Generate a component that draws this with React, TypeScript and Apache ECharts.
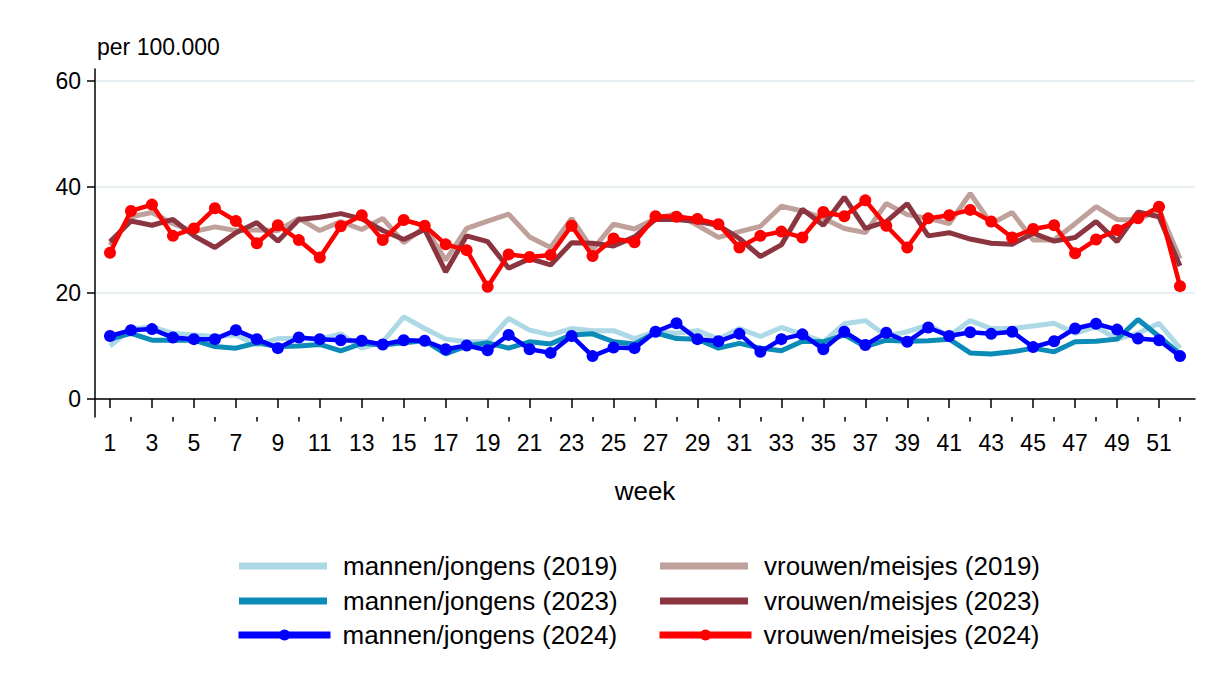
import React, { useEffect, useRef } from "react";
import * as echarts from "echarts";

const weeks = [1,2,3,4,5,6,7,8,9,10,11,12,13,14,15,16,17,18,19,20,21,22,23,24,25,26,27,28,29,30,31,32,33,34,35,36,37,38,39,40,41,42,43,44,45,46,47,48,49,50,51,52];
const xLabelWeeks = [1,3,5,7,9,11,13,15,17,19,21,23,25,27,29,31,33,35,37,39,41,43,45,47,49,51];
const xMinorWeeks = [2,4,6,8,10,12,14,16,18,20,22,24,26,28,30,32,34,36,38,40,42,44,46,48,50,52];
const yTicks = [0, 20, 40, 60];

const mannen2019 = [10.0,13.2,13.6,12.4,12.1,11.8,12.1,10.2,11.4,11.4,11.3,12.3,9.6,10.8,15.5,13.3,11.3,10.8,10.8,15.2,13.0,12.1,13.3,12.9,12.9,11.4,12.7,12.4,12.9,11.3,13.3,11.8,13.5,12.2,10.8,14.2,14.8,11.9,12.7,14.0,11.9,14.8,13.3,13.3,13.8,14.3,12.4,13.6,11.3,12.4,14.3,9.6];
const mannen2023 = [11.3,12.4,11.1,11.1,11.1,9.9,9.6,10.6,9.9,10.0,10.3,9.1,10.5,10.2,10.6,11.0,8.5,10.0,10.6,9.6,10.8,10.4,12.1,12.3,10.8,10.4,12.5,11.4,11.3,9.6,10.5,9.6,9.1,10.9,10.8,12.1,9.9,11.1,10.9,11.0,11.3,8.7,8.5,8.9,9.6,8.9,10.8,10.9,11.3,15.0,11.8,8.5];
const mannen2024 = [11.9,13.0,13.2,11.6,11.3,11.3,13.0,11.3,9.6,11.6,11.3,11.1,11.0,10.3,11.1,11.0,9.4,10.1,9.2,12.1,9.4,8.7,11.9,8.1,9.7,9.6,12.7,14.3,11.3,10.9,12.3,8.9,11.3,12.2,9.4,12.7,10.2,12.5,10.8,13.5,11.9,12.6,12.3,12.7,9.8,10.9,13.3,14.2,13.1,11.4,11.1,8.1];
const vrouwen2019 = [29.0,34.4,35.2,33.1,31.6,32.5,31.8,31.9,31.8,34.1,31.8,33.5,32.0,34.1,29.5,32.5,26.2,32.2,33.6,34.9,30.6,28.6,34.1,28.2,33.0,32.1,34.1,35.0,32.8,30.5,31.6,32.6,36.4,35.5,34.1,32.2,31.4,36.9,34.8,34.1,33.1,38.8,33.1,35.2,30.0,30.0,33.1,36.3,33.9,33.8,35.8,26.5];
const vrouwen2023 = [29.7,33.6,32.8,33.9,30.8,28.6,31.4,33.3,29.8,33.9,34.3,35.0,34.0,31.8,30.1,32.0,24.0,30.8,29.7,24.7,26.5,25.3,29.5,29.4,28.9,30.6,33.9,33.9,33.5,32.8,30.3,26.9,29.1,35.8,32.8,38.1,32.2,33.5,36.9,30.8,31.4,30.2,29.4,29.2,31.3,29.8,30.5,33.5,29.7,35.3,34.4,25.1];
const vrouwen2024 = [27.6,35.5,36.7,30.8,32.2,36.0,33.6,29.4,32.8,30.0,26.7,32.6,34.7,30.0,33.8,32.7,29.2,28.1,21.2,27.3,26.8,27.2,32.7,27.0,30.3,29.6,34.5,34.4,34.0,33.0,28.6,30.8,31.6,30.5,35.3,34.5,37.5,32.7,28.6,34.1,34.7,35.7,33.5,30.5,32.1,32.8,27.5,30.1,31.9,34.1,36.3,21.3];

const seriesNames = [
  "mannen/jongens (2019)",
  "mannen/jongens (2023)",
  "mannen/jongens (2024)",
  "vrouwen/meisjes (2019)",
  "vrouwen/meisjes (2023)",
  "vrouwen/meisjes (2024)",
];
const seriesValues = [mannen2019, mannen2023, mannen2024, vrouwen2019, vrouwen2023, vrouwen2024];
const seriesColors = ["#ADD8E6", "#0A8BB8", "#0000FF", "#C0A09A", "#8B3540", "#FF0000"];
const seriesMarkers = [false, false, true, false, false, true];

const FONT = "'Liberation Sans', Arial, sans-serif";

export default function App() {
  const ref = useRef<HTMLDivElement>(null);
  useEffect(() => {
    const chart = echarts.init(ref.current as HTMLDivElement, null, { renderer: "svg" });
    const order = [0, 3, 1, 4, 2, 5];
    const series = order.map((i) => ({
      type: "line",
      name: seriesNames[i],
      xAxisIndex: 0,
      yAxisIndex: 0,
      data: weeks.map((w, k) => [w, seriesValues[i][k]]),
      symbol: seriesMarkers[i] ? "circle" : "none",
      showSymbol: seriesMarkers[i],
      symbolSize: 12,
      lineStyle: { color: seriesColors[i], width: seriesMarkers[i] ? 4.5 : 5 },
      itemStyle: { color: seriesColors[i] },
      z: seriesMarkers[i] ? 4 : 2,
      emphasis: { disabled: true },
    }));
    const legendLeft = [239, 239, 235, 660, 660, 656];
    const legendCenter = [566, 601, 635, 566, 601, 635];
    const legend = seriesNames.map((n, i) => {
      const marker = seriesMarkers[i];
      const h = marker ? 14 : 7;
      return {
        data: [n],
        left: legendLeft[i],
        top: legendCenter[i] - 15,
        padding: 0,
        itemWidth: marker ? 92 : 88,
        itemHeight: h,
        icon: marker ? undefined : "rect",
        selectedMode: false,
        lineStyle: { width: 7 },
        itemStyle: { color: seriesColors[i] },
        textStyle: { fontSize: 26, fontFamily: FONT, color: "#000", lineHeight: 30, padding: [0, 0, 0, marker ? 7 : 11] },
      };
    });
    chart.setOption({
      animation: false,
      backgroundColor: "#fff",
      title: {
        text: "per 100.000",
        left: 97,
        top: 35,
        padding: 0,
        textStyle: { fontSize: 23, fontWeight: "normal", fontFamily: FONT, color: "#000" },
      },
      grid: { left: 95, right: 10, top: 69, bottom: 262, containLabel: false },
      legend,
      xAxis: [
        {
          type: "value",
          min: 0.285,
          max: 52.715,
          position: "bottom",
          axisLine: { show: true, lineStyle: { color: "#000", width: 1.5 } },
          axisTick: { show: true, customValues: xLabelWeeks, length: 9, lineStyle: { color: "#000", width: 1.5 } },
          axisLabel: { show: true, customValues: xLabelWeeks, fontSize: 23, margin: 14, color: "#000", fontFamily: FONT },
          splitLine: { show: false },
          name: "week",
          nameLocation: "middle",
          nameGap: 61,
          nameTextStyle: { fontSize: 26, color: "#000", fontFamily: FONT },
        },
        {
          type: "value",
          min: 0.285,
          max: 52.715,
          position: "bottom",
          axisLine: { show: false },
          axisTick: { show: true, customValues: xMinorWeeks, length: 4.5, lineStyle: { color: "#000", width: 1.5 } },
          axisLabel: { show: false },
          splitLine: { show: false },
        },
      ],
      yAxis: {
        type: "value",
        min: -3.4,
        max: 62.3,
        axisLine: { show: true, lineStyle: { color: "#000", width: 1.5 } },
        axisTick: { show: true, customValues: yTicks, length: 8, lineStyle: { color: "#000", width: 1.5 } },
        axisLabel: { show: true, customValues: yTicks, fontSize: 23, margin: 14, color: "#000", fontFamily: FONT },
        splitLine: { show: true, lineStyle: { color: "#E6EFF1", width: 2 } },
      },
      series,
    });
    return () => chart.dispose();
  }, []);
  return (
    <div
      ref={ref}
      style={{ position: "fixed", left: 0, top: 0, width: 1205, height: 679, background: "#fff" }}
    />
  );
}
